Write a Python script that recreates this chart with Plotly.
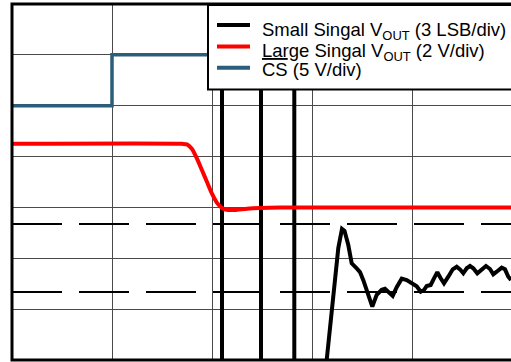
import plotly.graph_objects as go

# Scope-style capture: x in time divisions, y in vertical divisions (7 divs tall)
X_MAX = 4.99
Y_MAX = 7.0

# /CS trace (5 V/div)
cs_t = [0.0, 1.0, 1.0, X_MAX]
cs_v = [5.0, 5.0, 6.0, 6.0]

# Large-signal output (2 V/div)
large_t = [0.0, 1.70, 1.75, 1.80, 1.85, 1.90, 1.95, 2.00, 2.05, 2.10, 2.16, 2.23,
           2.35, 2.48, 2.68, X_MAX]
large_v = [4.25, 4.25, 4.24, 4.15, 3.96, 3.73, 3.50, 3.27, 3.09, 2.99, 2.95, 2.95,
           2.975, 2.99, 3.0, 3.0]

# Small-signal output (3 LSB/div): off-screen excursions, then settling ring
small_t = [0.0, 2.10, 2.10, 2.49, 2.49, 2.823, 2.823, 3.09,
           3.147, 3.213, 3.263, 3.30, 3.325, 3.363, 3.397, 3.447, 3.48, 3.513,
           3.563, 3.603, 3.647, 3.697, 3.73, 3.763, 3.807, 3.847, 3.897,
           3.947, 3.997, 4.047, 4.087, 4.12, 4.147, 4.187, 4.22,
           4.253, 4.287, 4.32, 4.363, 4.407, 4.447, 4.48, 4.513, 4.547, 4.58,
           4.613, 4.653, 4.697, 4.74, 4.78, 4.813, 4.847, 4.897, 4.93, 4.963, X_MAX]
small_v = [9.0, 9.0, -1.0, -1.0, 9.0, 9.0, -1.0, -1.0,
           0.0, 1.18, 2.20, 2.58, 2.54, 2.26, 1.90, 1.80, 1.73, 1.57,
           1.245, 1.05, 1.28, 1.38, 1.40, 1.35, 1.26, 1.43,
           1.60, 1.57, 1.52, 1.45, 1.343, 1.376, 1.455, 1.475, 1.606,
           1.724, 1.606, 1.508, 1.638, 1.783, 1.834, 1.783, 1.705, 1.803, 1.848,
           1.803, 1.705, 1.77, 1.848, 1.789, 1.685, 1.736, 1.815, 1.783, 1.638, 1.573]

# Dashed reference levels
ref_levels = [2.674, 1.337]

legend_labels = ["Small Singal V<sub>OUT</sub> (3 LSB/div)",
                 "Large Singal V<sub>OUT</sub> (2 V/div)",
                 "<span style='text-decoration:overline'>CS</span> (5 V/div)"]
legend_colors = ["#000000", "#ff0000", "#2b5e7a"]
legend_text_y = [6.469, 6.06, 5.708]
legend_line_y = [6.587, 6.163, 5.747]

fig = go.Figure()

for lvl in ref_levels:
    fig.add_trace(go.Scatter(x=[0, X_MAX], y=[lvl, lvl], mode="lines",
                             line=dict(color="black", width=2, dash="50px,17px"),
                             showlegend=False, hoverinfo="skip"))

fig.add_trace(go.Scatter(x=small_t, y=small_v, mode="lines",
                         line=dict(color=legend_colors[0], width=4),
                         showlegend=False))
fig.add_trace(go.Scatter(x=large_t, y=large_v, mode="lines",
                         line=dict(color=legend_colors[1], width=4, shape="spline", smoothing=0.6),
                         showlegend=False))
fig.add_trace(go.Scatter(x=cs_t, y=cs_v, mode="lines",
                         line=dict(color=legend_colors[2], width=3.5),
                         showlegend=False))

shapes = []
# frame (left, top, bottom)
shapes.append(dict(type="rect", xref="paper", yref="paper", x0=0, x1=1.05, y0=0, y1=1,
                   line=dict(color="black", width=3), fillcolor="rgba(0,0,0,0)", layer="above"))
# legend box
shapes.append(dict(type="rect", xref="x", yref="y", x0=1.96, x1=5.3, y0=5.32, y1=6.98,
                   line=dict(color="black", width=2), fillcolor="white", layer="above"))
annotations = []
for lbl, col, ty, ly in zip(legend_labels, legend_colors, legend_text_y, legend_line_y):
    shapes.append(dict(type="line", xref="x", yref="y", x0=2.05, x1=2.38, y0=ly, y1=ly,
                       line=dict(color=col, width=4), layer="above"))
    annotations.append(dict(x=2.48, y=ty, xref="x", yref="y", text=lbl, showarrow=False,
                            xanchor="left", yanchor="middle",
                            font=dict(family="Liberation Sans, Arial, sans-serif", size=18.5, color="black")))

fig.update_layout(
    width=511, height=362,
    margin=dict(l=12, r=0, t=4, b=2),
    paper_bgcolor="white", plot_bgcolor="white",
    showlegend=False,
    shapes=shapes, annotations=annotations,
    xaxis=dict(range=[0, X_MAX], dtick=1, tick0=0, showgrid=True, gridcolor="#4a4a4a",
               gridwidth=1, zeroline=False, showticklabels=False, ticks="", showline=False),
    yaxis=dict(range=[0, Y_MAX], dtick=1, tick0=0, showgrid=True, gridcolor="#4a4a4a",
               gridwidth=1, zeroline=False, showticklabels=False, ticks="", showline=False),
)

fig.write_html("out.html")
